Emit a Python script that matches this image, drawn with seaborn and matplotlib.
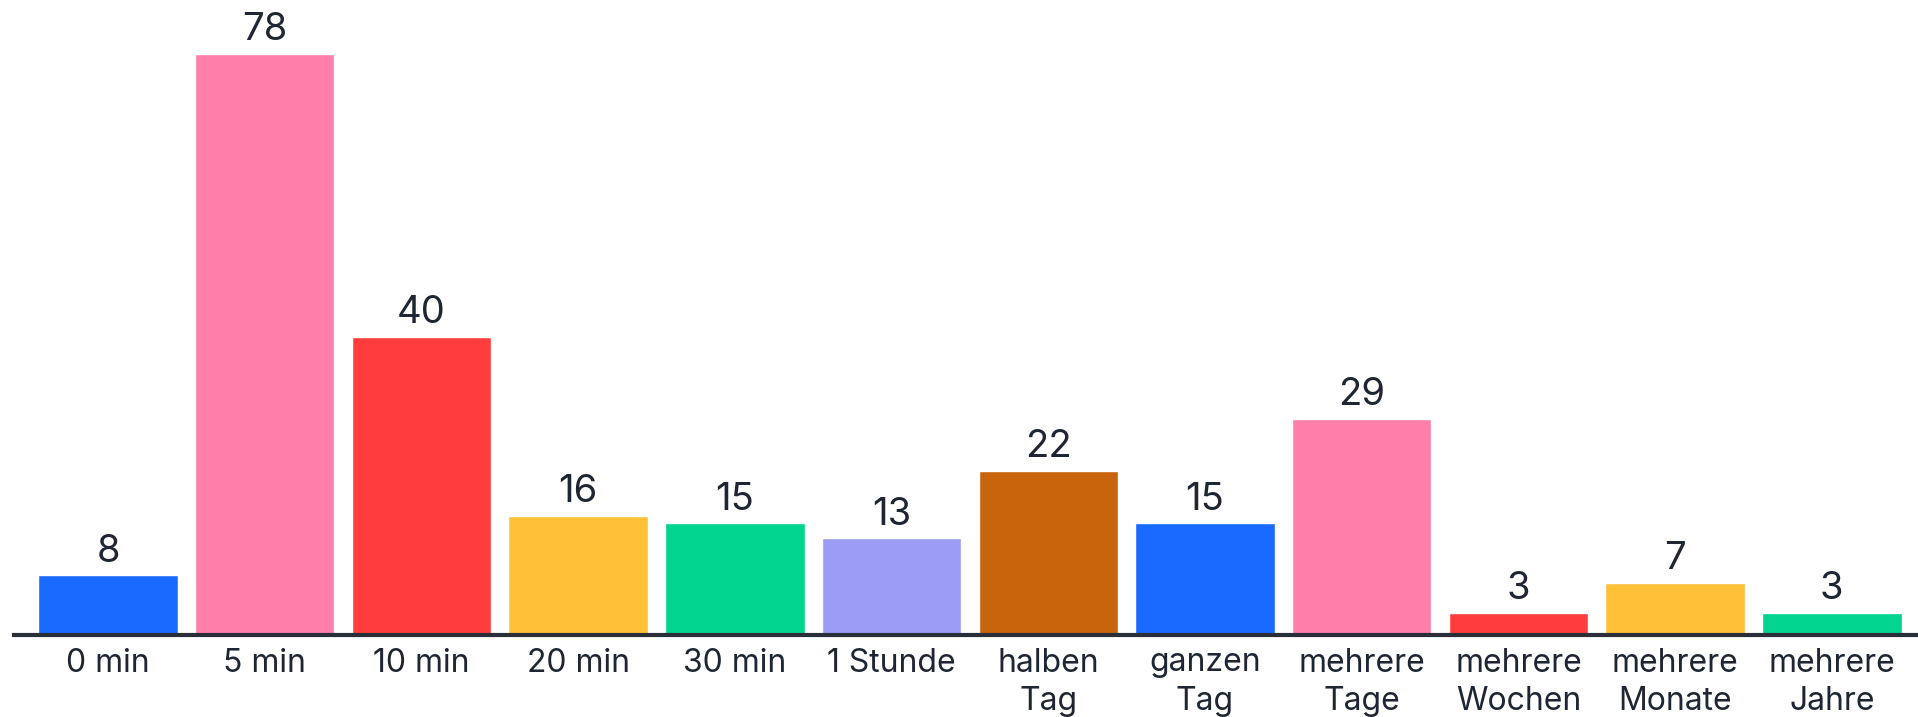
import matplotlib
matplotlib.use("Agg")
import matplotlib.pyplot as plt
import seaborn as sns
import pandas as pd

categories = ["0 min", "5 min", "10 min", "20 min", "30 min", "1 Stunde",
              "halben\nTag", "ganzen\nTag", "mehrere\nTage", "mehrere\nWochen",
              "mehrere\nMonate", "mehrere\nJahre"]
counts = [8, 78, 40, 16, 15, 13, 22, 15, 29, 3, 7, 3]
colors = ["#1a6aff", "#ff7eaa", "#ff3d3d", "#ffc137", "#00d48f", "#9a9cf5",
          "#c8640c", "#1a6aff", "#ff7eaa", "#ff3d3d", "#ffc137", "#00d48f"]

text_color = "#1f2633"

sns.set_theme(style="white")
plt.rcParams['font.family'] = ['Inter', 'DejaVu Sans']

df = pd.DataFrame({'category': categories, 'count': counts})

fig = plt.figure(figsize=(19.18, 7.17), dpi=100)
ax = fig.add_axes([14 / 1918, (717 - 635) / 717, 1 - 14 / 1918, 635 / 717])

sns.barplot(data=df, x='category', y='count', hue='category',
            palette=colors, width=0.89, legend=False, ax=ax,
            saturation=1)

for container in ax.containers:
    ax.bar_label(container, fmt='%d', padding=4, fontsize=27.5, color=text_color)

ax.set_xlim(-0.6, 11.55)
ax.set_ylim(0, 85.2)
ax.set_xlabel("")
ax.set_ylabel("")
ax.set_yticks([])
ax.tick_params(axis='x', length=0, pad=9, labelsize=23, labelcolor=text_color)
for lbl in ax.get_xticklabels():
    lbl.set_linespacing(1.3)

sns.despine(ax=ax, left=True)
ax.spines['bottom'].set_color("#2a2e38")
ax.spines['bottom'].set_linewidth(3)
ax.patch.set_alpha(0)

fig.savefig("out.png", dpi=100, facecolor="white")
